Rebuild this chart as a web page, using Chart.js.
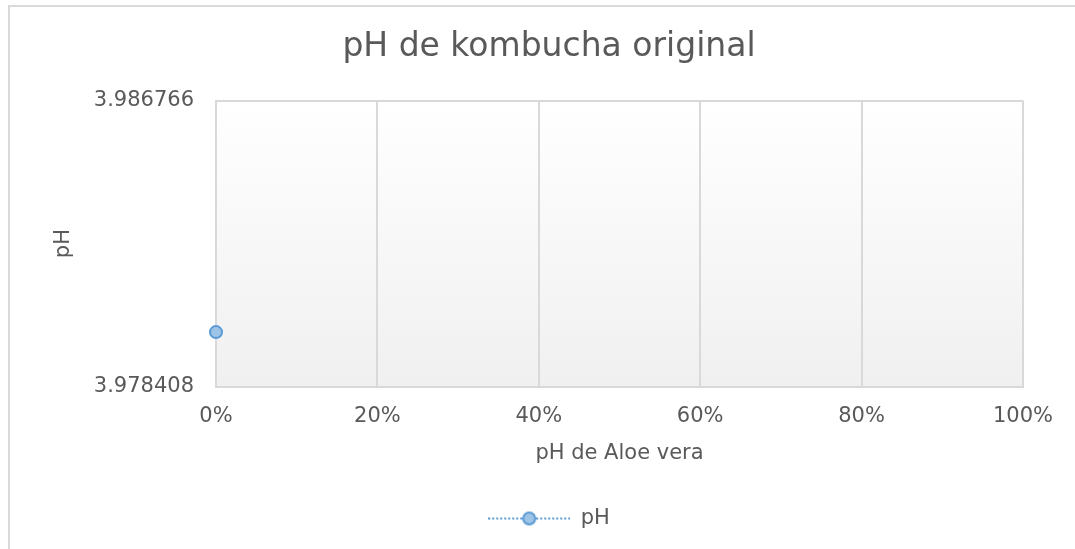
<!DOCTYPE html>
<html>
<head>
<meta charset="utf-8">
<script src="https://cdn.jsdelivr.net/npm/chart.js@4.4.0/dist/chart.umd.min.js"></script>
<style>
  body { margin: 0; background: #fff; }
  #wrap { position: relative; width: 1075px; height: 549px; overflow: hidden; }
  #frame { position: absolute; left: 8px; top: 5px; width: 1200px; height: 700px;
           border-top: 2px solid #d9d9d9; border-left: 2px solid #d9d9d9; }
  canvas { position: absolute; left: 0; top: 0; }
</style>
</head>
<body>
<div id="wrap">
  <div id="frame"></div>
  <canvas id="phChart" width="1075" height="549"></canvas>
</div>
<script>
const aloePct = [0];
const phValues = [3.98];
const yMin = 3.978408;
const yMax = 3.986766;
const xTicks = [0, 0.2, 0.4, 0.6, 0.8, 1];

const txt = "#595959";
const grid = "#d9d9d9";
const fam = "DejaVu Sans";

// legend marker: dotted line with a circle
const legendMark = document.createElement("canvas");
legendMark.width = 82;
legendMark.height = 16;
(function () {
  const c = legendMark.getContext("2d");
  c.strokeStyle = "#5b9bd5";
  c.lineWidth = 2;
  c.setLineDash([2, 2]);
  c.beginPath();
  c.moveTo(0, 8);
  c.lineTo(82, 8);
  c.stroke();
  c.setLineDash([]);
  c.beginPath();
  c.arc(41, 8, 6, 0, Math.PI * 2);
  c.fillStyle = "#9dc3e6";
  c.fill();
  c.stroke();
})();

const plotBg = {
  id: "plotBg",
  beforeDraw(chart) {
    const a = chart.chartArea;
    const c = chart.ctx;
    const g = c.createLinearGradient(0, a.top, 0, a.bottom);
    g.addColorStop(0, "#ffffff");
    g.addColorStop(1, "#f0f0f0");
    c.save();
    c.fillStyle = g;
    c.fillRect(a.left, a.top, a.right - a.left, a.bottom - a.top);
    c.restore();
  },
};

document.addEventListener("DOMContentLoaded", function () {
  const ctx = document.getElementById("phChart").getContext("2d");
  new Chart(ctx, {
    type: "line",
    data: {
      datasets: [
        {
          label: "pH",
          data: aloePct.map((x, i) => ({ x: x, y: phValues[i] })),
          clip: false,
          borderColor: "#5b9bd5",
          borderWidth: 2,
          borderDash: [2, 2],
          backgroundColor: "#9dc3e6",
          pointStyle: "circle",
          pointRadius: 6,
          pointBorderWidth: 2,
          pointBorderColor: "#5b9bd5",
          pointBackgroundColor: "#9dc3e6",
        },
      ],
    },
    options: {
      responsive: false,
      animation: false,
      layout: { padding: { left: 23, right: 0, top: 0, bottom: 10 } },
      plugins: {
        title: {
          display: true,
          text: "pH de kombucha original",
          color: txt,
          font: { family: fam, size: 33, weight: "normal" },
          padding: { top: 28, bottom: 33 },
        },
        legend: {
          position: "bottom",
          labels: {
            usePointStyle: true,
            pointStyleWidth: 82,
            color: txt,
            font: { family: fam, size: 21 },
            padding: 20,
            generateLabels(chart) {
              return [{ text: "pH", pointStyle: legendMark, fontColor: txt, lineWidth: 0, strokeStyle: "transparent", fillStyle: "transparent", datasetIndex: 0 }];
            },
          },
        },
        tooltip: { enabled: false },
      },
      scales: {
        x: {
          type: "linear",
          min: 0,
          max: 1,
          afterBuildTicks(s) { s.ticks = xTicks.map((v) => ({ value: v })); },
          ticks: {
            color: txt,
            font: { family: fam, size: 21 },
            padding: 17,
            callback: (v) => Math.round(v * 100) + "%",
          },
          grid: { color: grid, lineWidth: 2, drawTicks: false },
          border: { color: grid, width: 2 },
          title: {
            display: true,
            text: "pH de Aloe vera",
            color: txt,
            font: { family: fam, size: 21 },
            padding: { top: -5, bottom: 22 },
          },
        },
        y: {
          min: yMin,
          max: yMax,
          afterBuildTicks(s) { s.ticks = [{ value: yMin }, { value: yMax }]; },
          afterFit(s) { s.width = 193; },
          ticks: {
            color: txt,
            font: { family: fam, size: 21 },
            padding: 22,
            callback: (v) => v.toFixed(6),
          },
          grid: { color: grid, lineWidth: 2, drawTicks: false },
          border: { color: grid, width: 2 },
          title: {
            display: true,
            text: "pH",
            color: txt,
            font: { family: fam, size: 21 },
            padding: { top: 28, bottom: 0 },
          },
        },
        spacer: {
          position: "right",
          display: true,
          afterFit(s) { s.width = 52; },
          ticks: { display: false },
          grid: { display: false },
          border: { display: false },
        },
      },
    },
    plugins: [plotBg],
  });
});
</script>
</body>
</html>
